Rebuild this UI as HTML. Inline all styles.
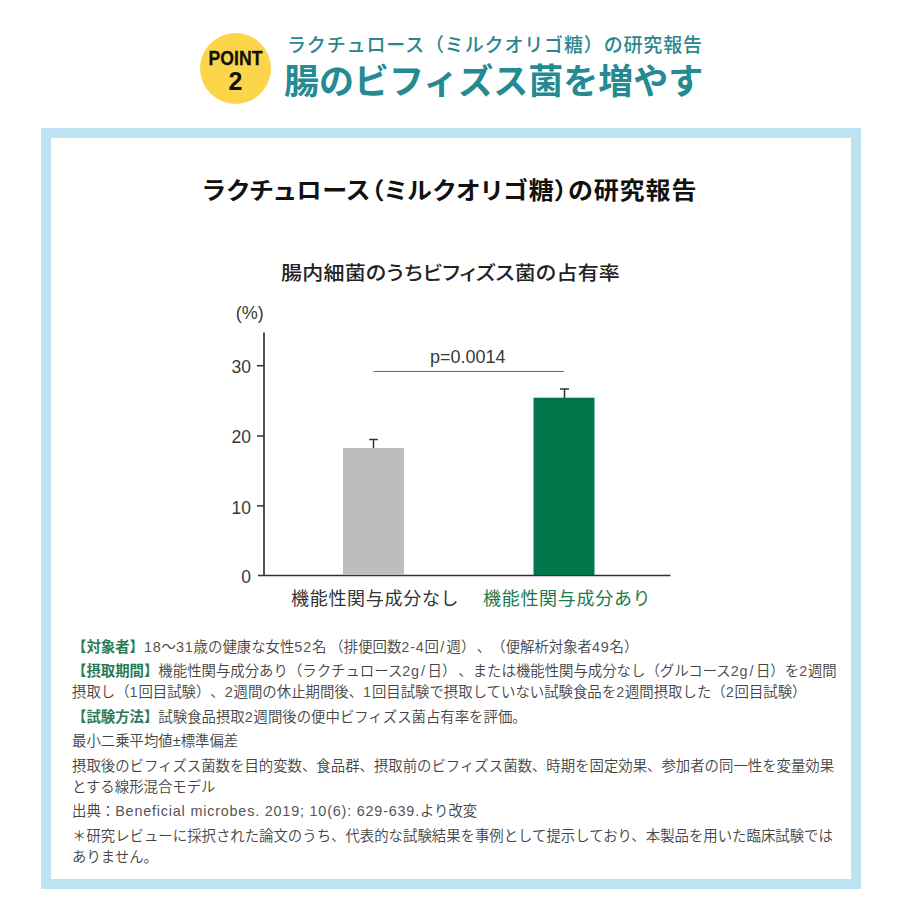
<!DOCTYPE html>
<html lang="ja">
<head>
<meta charset="utf-8">
<style>
html,body{margin:0;padding:0;background:#fff;}
body{text-spacing-trim:space-all;width:900px;height:900px;position:relative;overflow:hidden;font-family:"Liberation Sans","Noto Sans CJK JP",sans-serif;color:#333;}
.abs{position:absolute;white-space:nowrap;}
#circle{left:200px;top:33px;width:71px;height:71px;border-radius:50%;background:#fcd54b;}
#point{left:200px;width:71px;top:47px;text-align:center;font-weight:700;font-size:20px;line-height:22px;color:#111;transform:scaleX(0.88);transform-origin:35.5px 0;-webkit-text-stroke:0.3px #111;}
#two{left:200px;width:71px;top:68px;text-align:center;font-weight:700;font-size:25px;line-height:26px;color:#111;}
#sub{left:287px;top:32px;letter-spacing:0.85px;font-size:19px;line-height:28px;color:#2d868e;font-weight:500;font-family:"Liberation Sans","Noto Sans CJK JP",sans-serif;}
#main{left:284px;top:59px;font-size:35px;line-height:46px;color:#268a92;font-weight:700;}
#box{left:41px;top:128px;width:800px;height:741px;border:10px solid #bde2f2;}
#btitle{left:0;width:900px;top:175px;text-align:center;font-size:25px;line-height:32px;font-weight:700;color:#111;font-feature-settings:"palt";letter-spacing:0.9px;transform:scaleY(0.94);transform-origin:0 15px;}
.halt{}
#ctitle{left:281px;top:259px;letter-spacing:0.22px;font-size:21px;line-height:30px;font-weight:500;color:#222;font-feature-settings:"palt";transform:scaleY(0.9);transform-origin:0 14px;}
#notes{left:72px;top:636.5px;width:767px;font-size:14.4px;line-height:21.4px;color:#444;white-space:normal;font-weight:350;}
#notes p{margin:0 0 3px 0;}
#notes b{color:#2b7a57;font-weight:700;}
#notes i{font-style:normal;letter-spacing:0.8px;color:#555;}
#notes i.s{letter-spacing:2.4px;margin-left:1.2px;}
</style>
</head>
<body>
<div class="abs" id="circle"></div>
<div class="abs" id="point">POINT</div>
<div class="abs" id="two">2</div>
<div class="abs" id="sub">ラクチュロース（ミルクオリゴ糖）の研究報告</div>
<div class="abs" id="main">腸のビフィズス菌を増やす</div>
<div class="abs" id="box"></div>
<div class="abs" id="btitle">ラクチュロース<span class="halt">（</span>ミルクオリゴ糖<span class="halt">）</span>の研究報告</div>
<div class="abs" id="ctitle">腸内細菌のうちビフィズス菌の占有率</div>

<svg class="abs" style="left:0;top:0" width="900" height="900" viewBox="0 0 900 900">
  <g font-family="Liberation Sans, Noto Sans CJK JP, sans-serif" fill="#3a3a3a">
    <text x="249.7" y="319" font-size="18" text-anchor="middle">(%)</text>
    <text x="251" y="372.5" font-size="17.5" text-anchor="end">30</text>
    <text x="251" y="442.7" font-size="17.5" text-anchor="end">20</text>
    <text x="251" y="514" font-size="17.5" text-anchor="end">10</text>
    <text x="251" y="582.7" font-size="17.5" text-anchor="end">0</text>
    <text x="467.7" y="363" font-size="18" text-anchor="middle">p=0.0014</text>
  </g>
  <line x1="264" y1="332.5" x2="264" y2="576" stroke="#333" stroke-width="1.7"/>
  <line x1="258" y1="575.5" x2="670.5" y2="575.5" stroke="#333" stroke-width="1.7"/>
  <line x1="257" y1="365.7" x2="264" y2="365.7" stroke="#333" stroke-width="1.5"/>
  <line x1="257" y1="436" x2="264" y2="436" stroke="#333" stroke-width="1.5"/>
  <line x1="257" y1="505.9" x2="264" y2="505.9" stroke="#333" stroke-width="1.5"/>
  <line x1="373.5" y1="371.5" x2="564" y2="371.5" stroke="#6a6a6a" stroke-width="1.1"/>
  <rect x="343" y="448" width="61" height="127" fill="#bdbdbd"/>
  <rect x="533.5" y="397.7" width="61" height="177.3" fill="#00774a"/>
  <path d="M373.5 448 V439.5 M369.3 439.5 H377.8" stroke="#333" stroke-width="1.5" fill="none"/>
  <path d="M564.5 398 V389 M560 389 H569" stroke="#333" stroke-width="1.5" fill="none"/>
  <g font-family="Liberation Sans, Noto Sans CJK JP, sans-serif" font-size="18" letter-spacing="0.7">
    <text x="291" y="605" fill="#333">機能性関与成分なし</text>
    <text x="483" y="605" fill="#1c7a4c">機能性関与成分あり</text>
  </g>
</svg>

<div class="abs" id="notes">
<p><b>【対象者】</b><i>18</i>～<i>31</i>歳の健康な女性<i>52</i>名<span style="margin-left:3px">（</span>排便回数<i>2-4</i>回<i class="s">/</i>週）<span style="margin-left:1.5px">、</span>（便解析対象者<i>49</i>名）</p>
<p><b>【摂取期間】</b>機能性関与成分あり（ラクチュロース<i>2g</i><i class="s">/</i>日）<span style="margin-left:2px">、</span>または機能性関与成分なし（グルコース<i>2g</i><i class="s">/</i>日）を<i>2</i>週間摂取し（<i>1</i>回目試験）、<i>2</i>週間の休止期間後、<i>1</i>回目試験で摂取していない試験食品を<i>2</i>週間摂取した（<i>2</i>回目試験）</p>
<p><b>【試験方法】</b>試験食品摂取<i>2</i>週間後の便中ビフィズス菌占有率を評価。</p>
<p>最小二乗平均値±標準偏差</p>
<p>摂取後のビフィズス菌数を目的変数、食品群、摂取前のビフィズス菌数、時期を固定効果、参加者の同一性を変量効果とする線形混合モデル</p>
<p>出典：<i>Beneficial microbes. 2019; 10(6): 629-639.</i>より改変</p>
<p>＊研究レビューに採択された論文のうち、代表的な試験結果を事例として提示しており、本製品を用いた臨床試験ではありません。</p>
</div>
</body>
</html>
